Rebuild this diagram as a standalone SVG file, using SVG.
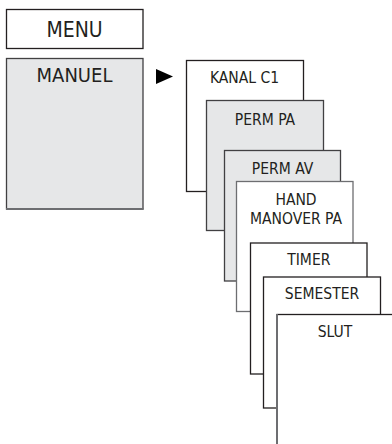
<svg xmlns="http://www.w3.org/2000/svg" width="392" height="444" viewBox="0 0 392 444">
<style>
  text { font-family: "DejaVu Sans Condensed", "DejaVu Sans", "Liberation Sans", sans-serif; font-stretch: condensed; fill: #231f20; text-anchor: middle; }
  .big { font-size: 20px; }
  .sm { font-size: 15.5px; }
  .box { stroke: #231f20; stroke-width: 1.3; fill: #ffffff; }
  .grey { fill: #e6e7e8; stroke: #414042; }
  .mid { stroke: #6d6e71; }
</style>
<rect width="392" height="444" fill="#ffffff"/>
<g id="menu">
  <rect class="box" x="6.5" y="9.5" width="136.5" height="39"/>
  <text class="big" x="74.5" y="36.5" style="font-size:21px">MENU</text>
</g>
<g id="manuel">
  <rect class="box grey" x="6.5" y="58.5" width="136.5" height="150.5"/>
  <line x1="6" y1="209" x2="143.5" y2="209" stroke="#6d6e71" stroke-width="2"/>
  <text class="big" x="74.5" y="81.5">MANUEL</text>
</g>
<g id="connectors">
  <polygon points="156,69 156,84 173,76.5" fill="#000000"/>
</g>
<g id="kanal-c1">
  <rect class="box" x="186.5" y="60.5" width="117" height="131"/>
  <text class="sm" x="244.5" y="83">KANAL C1</text>
</g>
<g id="perm-pa">
  <rect class="box grey" x="206.5" y="100.5" width="117" height="130"/>
  <text class="sm" x="265" y="125">PERM PA</text>
</g>
<g id="perm-av">
  <rect class="box grey" x="224.5" y="150.5" width="116" height="130.5"/>
  <text class="sm" x="282.5" y="174">PERM AV</text>
</g>
<g id="hand-manover-pa">
  <rect class="box mid" x="236.5" y="181.5" width="116.5" height="130"/>
  <text class="sm" x="296" y="204.5">HAND</text>
  <text class="sm" x="296" y="224">MANOVER PA</text>
</g>
<g id="timer">
  <rect class="box" x="250.5" y="243" width="116.5" height="131"/>
  <text class="sm" x="308.8" y="265">TIMER</text>
</g>
<g id="semester">
  <rect class="box" x="263.5" y="277" width="117" height="131"/>
  <text class="sm" x="322" y="299">SEMESTER</text>
</g>
<g id="slut">
  <rect class="box" x="277" y="314.5" width="120" height="140"/>
  <line x1="277" y1="314" x2="277" y2="444" stroke="#6d6e71" stroke-width="2"/>
  <text class="sm" x="335" y="337.3">SLUT</text>
</g>
</svg>
